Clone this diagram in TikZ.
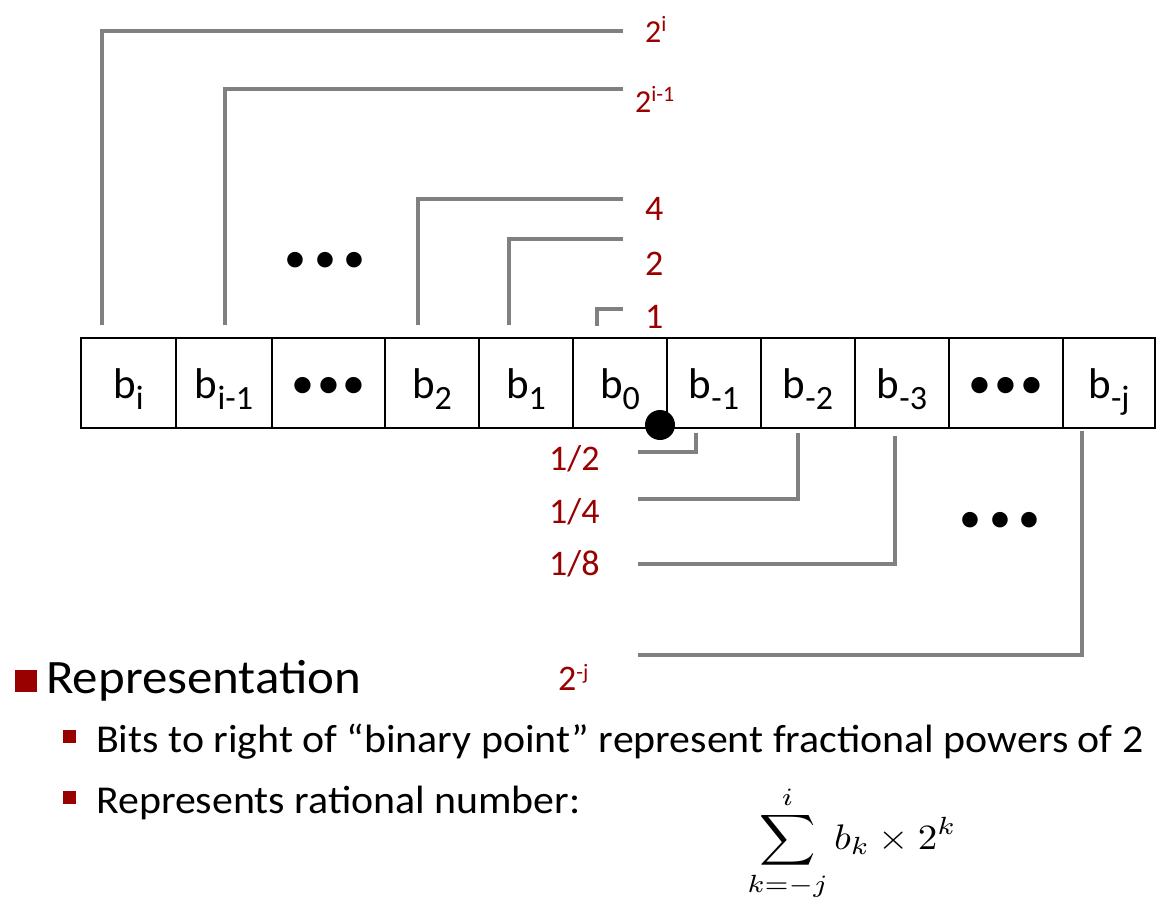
\documentclass[tikz,border=0pt]{standalone}
\usepackage{fontspec}
\usepackage{graphicx}
\setmainfont{Carlito}
\newfontfamily\widefont[FakeStretch=1.06]{Carlito}
\definecolor{lblred}{RGB}{153,0,0}
\definecolor{linegray}{RGB}{128,128,128}
\newcommand\bsub[1]{b\raisebox{-11pt}{\fontsize{34}{34}\selectfont #1}}
\newcommand\supx[1]{\raisebox{11pt}{\fontsize{22}{22}\selectfont #1}}
\newcommand\celldots{•\kern3pt•\kern3pt•}
\begin{document}
\begin{tikzpicture}[x=1pt,y=-1pt,
  cell/.style={draw=black, line width=2pt, minimum height=90pt, inner sep=0pt,
    text height=30pt, text depth=0pt, font=\fontsize{43}{43}\selectfont},
  lab/.style={text=lblred, font=\fontsize{36}{36}\selectfont, inner sep=0pt, anchor=base west},
  conn/.style={draw=linegray, line width=3.5pt},
  dotrow/.style={inner sep=0pt, font=\fontsize{44}{44}\selectfont},
  sq/.style={fill=lblred, inner sep=0pt, minimum size=#1}]
\useasboundingbox (0,0) rectangle (1172,901);
% cells
\node[cell, minimum width=95pt]  (c1)  at (128.5,383) {\bsub{i}};
\node[cell, minimum width=96pt]  (c2)  at (224,383)   {\bsub{i-1}};
\node[cell, minimum width=113pt] (c3)  at (328.5,383) {\fontsize{46}{46}\selectfont\celldots};
\node[cell, minimum width=94pt]  (c4)  at (432,383)   {\bsub{2}};
\node[cell, minimum width=94pt]  (c5)  at (526,383)   {\bsub{1}};
\node[cell, minimum width=94pt]  (c6)  at (620,383)   {\bsub{0}};
\node[cell, minimum width=94pt]  (c7)  at (714,383)   {\bsub{-1}};
\node[cell, minimum width=94pt]  (c8)  at (808,383)   {\bsub{-2}};
\node[cell, minimum width=94pt]  (c9)  at (902,383)   {\bsub{-3}};
\node[cell, minimum width=114pt] (c10) at (1006,383)  {\fontsize{46}{46}\selectfont\celldots};
\node[cell, minimum width=92pt]  (c11) at (1109,383)  {\bsub{-j}};
% binary point
\node[circle, fill=black, minimum size=30pt, inner sep=0pt] (bp) at (660,425) {};
% upper labels
\node[lab, font=\fontsize{32}{32}\selectfont] (l1) at (645,43)  {2\supx{i}};
\node[lab, font=\fontsize{32}{32}\selectfont] (l2) at (635,113) {2\supx{i-1}};
\node[lab] (l3) at (645,221) {4};
\node[lab] (l4) at (645,276) {2};
\node[lab] (l5) at (645,328) {1};
% lower labels
\node[lab] (m1) at (549,470) {1/2};
\node[lab] (m2) at (549,523) {1/4};
\node[lab] (m3) at (549,575) {1/8};
\node[lab] (m4) at (558,690) {2\supx{-j}};
% connector end points
\coordinate (u1a) at (102,325); \coordinate (u1b) at (623,31);
\coordinate (u2a) at (225,325); \coordinate (u2b) at (623,89);
\coordinate (u3a) at (418,325); \coordinate (u3b) at (623,199);
\coordinate (u4a) at (509,325); \coordinate (u4b) at (623,239);
\coordinate (u5a) at (597,326); \coordinate (u5b) at (623,309);
\coordinate (d1a) at (696,433); \coordinate (d1b) at (638,452);
\coordinate (d2a) at (798,433); \coordinate (d2b) at (638,499);
\coordinate (d3a) at (895,436); \coordinate (d3b) at (638,564);
\coordinate (d4a) at (1082,431); \coordinate (d4b) at (638,655);
\draw[conn] (u1a) |- (u1b);
\draw[conn] (u2a) |- (u2b);
\draw[conn] (u3a) |- (u3b);
\draw[conn] (u4a) |- (u4b);
\draw[conn] (u5a) |- (u5b);
\draw[conn] (d1a) |- (d1b);
\draw[conn] (d2a) |- (d2b);
\draw[conn] (d3a) |- (d3b);
\draw[conn] (d4a) |- (d4b);
% ellipsis dots
\node[dotrow] (e1) at (325,262) {•\kern8pt•\kern8pt•};
\node[dotrow] (e2) at (1000,522) {•\kern7.5pt•\kern7.5pt•};
% bullet list
\node[sq=22pt] (s1) at (26,681) {};
\node[anchor=base west, inner sep=0pt, font=\widefont\fontsize{48}{48}\selectfont] (t1) at (46,693) {Representation};
\node[sq=13pt] (s2) at (69.5,736.5) {};
\node[anchor=base west, inner sep=0pt, font=\widefont\fontsize{39.5}{39.5}\selectfont] (t2) at (96,752) {Bits to right of “binary point” represent fractional powers of 2};
\node[sq=13pt] (s3) at (69.5,797.5) {};
\node[anchor=base west, inner sep=0pt, font=\widefont\fontsize{39.5}{39.5}\selectfont] (t3) at (96,813) {Represents rational number:};
\node[inner sep=0pt] (f) at (852,843) {\scalebox{3.91}[3.55]{$\displaystyle\sum_{k=-j}^{i} b_k \times 2^k$}};
\end{tikzpicture}
\end{document}
